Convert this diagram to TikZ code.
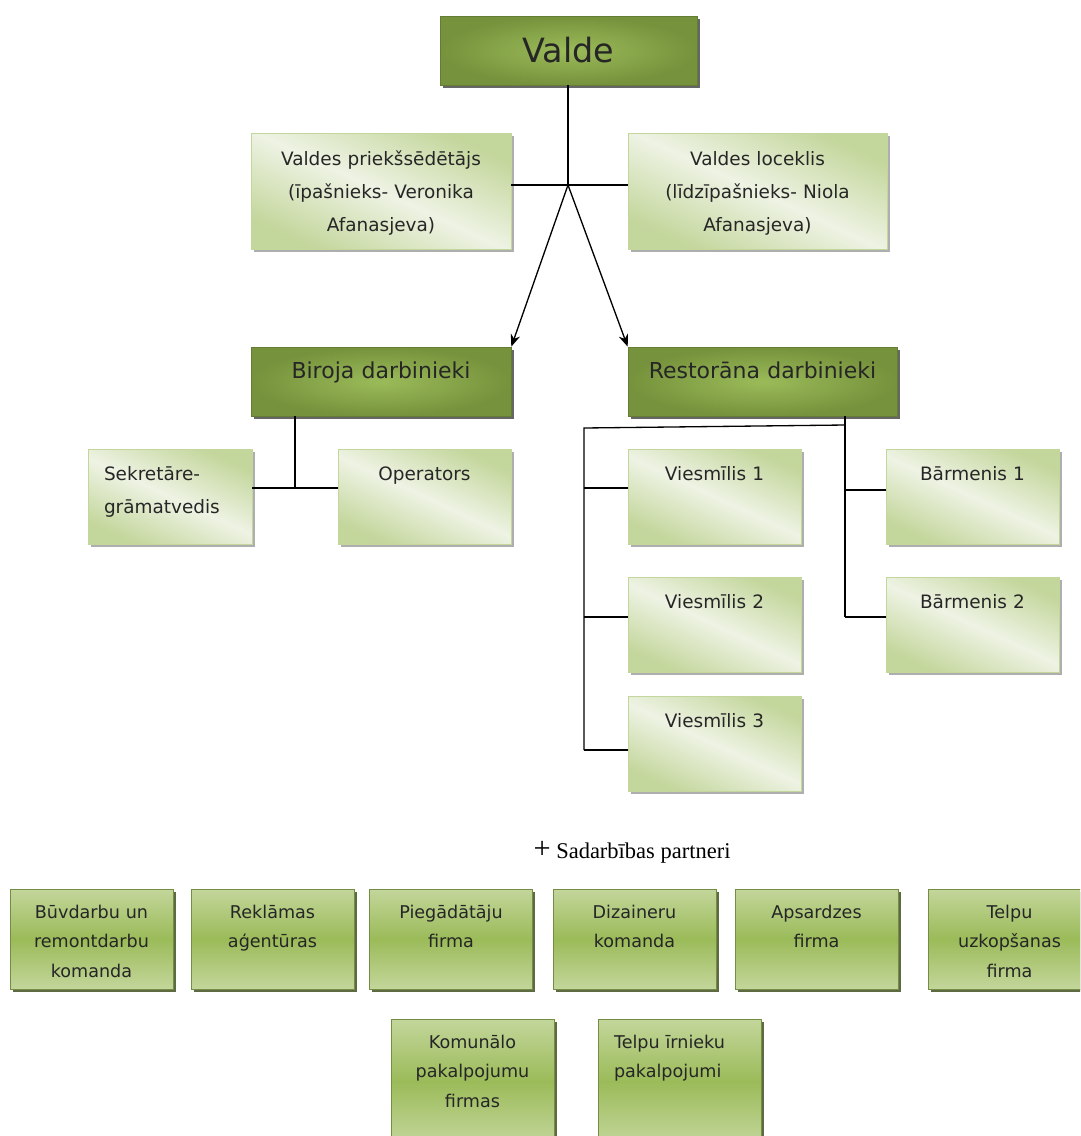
\documentclass[tikz,border=0pt]{standalone}
\usepackage{fontspec}
\setmainfont{DejaVu Sans}
\newfontfamily\partnerfont{Liberation Serif}
\usepackage{xcolor}
\usetikzlibrary{arrows.meta,shadows}

\definecolor{olivedark}{HTML}{76923C}
\definecolor{olivemid}{HTML}{9BBB59}
\definecolor{olivelight}{HTML}{C3D69B}
\definecolor{olivepale}{HTML}{EEF3E4}

\begin{document}
\begin{tikzpicture}[x=0.02cm,y=-0.02cm,
  box/.style={rectangle,inner sep=0pt,align=center,text=black!85,line width=0.4pt},
  headbox/.style={box,draw=olivedark!85!black,inner color=olivemid,outer color=olivedark,
                  text width=5.2cm,minimum width=5.2cm,text height=0.62cm,text depth=0.76cm,
                  font=\fontsize{12.5}{15}\selectfont,
                  drop shadow={shadow xshift=1.6pt,shadow yshift=-1.6pt,fill=black!75,opacity=.8}},
  rolebox/.style={box,draw=olivelight,top color=olivelight,bottom color=olivelight,middle color=olivepale,
                  shading angle=-25,
                  text width=3.46cm,minimum width=3.46cm,text height=0.62cm,text depth=1.28cm,
                  font=\fontsize{10.5}{18.8}\selectfont,
                  drop shadow={shadow xshift=1.6pt,shadow yshift=-1.6pt,fill=black!45,opacity=.7}},
  partnerbox/.style={box,draw=olivemid!75!black,top color=olivelight,bottom color=olivelight,middle color=olivemid,
                  text width=3.26cm,minimum width=3.26cm,text height=0.58cm,text depth=1.42cm,
                  font=\fontsize{10}{17}\selectfont,
                  drop shadow={shadow xshift=1.6pt,shadow yshift=-1.6pt,fill=olivedark!55!black,opacity=.85}},
  leftbox/.style={align=left,inner xsep=0.32cm,text width=#1},
  link/.style={line width=0.75pt},
  down/.style={link,-{Stealth[length=7pt,width=5.5pt]}}]

\useasboundingbox (0,0) rectangle (1080,1136);
\clip (0,0) rectangle (1080,1136);

% board
\node[headbox,text width=5.14cm,minimum width=5.14cm,text height=0.92cm,text depth=0.46cm,
      font=\fontsize{19}{22}\selectfont] (valde) at (568.5,50.5) {Valde};

\node[rolebox,text width=5.2cm,minimum width=5.2cm,text height=0.64cm,text depth=1.68cm] (chair) at (381,191)
  {Valdes priekšsēdētājs\\(īpašnieks- Veronika\\Afanasjeva)};
\node[rolebox,text width=5.18cm,minimum width=5.18cm,text height=0.64cm,text depth=1.68cm] (member) at (757.5,191)
  {Valdes loceklis\\(līdzīpašnieks- Niola\\Afanasjeva)};

\coordinate (jct) at (568,185);
\draw[link] (valde.south -| jct) -- (jct);
\draw[link] (chair.east |- jct) -- (member.west |- jct);

% departments
\node[headbox] (office) at (381,381.5) {Biroja darbinieki};
\node[headbox,text width=5.38cm,minimum width=5.38cm] (rest) at (762.5,381.5) {Restorāna darbinieki};

\draw[down] (jct) -- (office.north east);
\draw[down] (jct) -- (rest.north west);

% office staff
\node[rolebox,text width=3.28cm,minimum width=3.28cm,leftbox=2.64cm] (secr) at (170,496.5) {Sekretāre-\\grāmatvedis};
\node[rolebox] (oper) at (424.5,496.5) {Operators};

\coordinate (oj) at (295,488);
\draw[link] (office.south -| oj) -- (oj);
\draw[link] (secr.east |- oj) -- (oper.west |- oj);

% restaurant staff
\node[rolebox] (wait1) at (714.5,496.5) {Viesmīlis 1};
\node[rolebox] (wait2) at (714.5,624.5) {Viesmīlis 2};
\node[rolebox] (wait3) at (714.5,744)   {Viesmīlis 3};
\node[rolebox] (bar1)  at (972.5,496.5) {Bārmenis 1};
\node[rolebox] (bar2)  at (972.5,624.5) {Bārmenis 2};

\coordinate (rj)  at (845,425);
\coordinate (rb1) at (845,490);
\coordinate (rb2) at (845,617);
\coordinate (wj)  at (584,428);
\coordinate (w1)  at (584,488);
\coordinate (w2)  at (584,617);
\coordinate (w3)  at (584,750);

\draw[link] (rest.south -| rj) -- (rb2);
\draw[link] (rj) -- (wj) -- (w3);
\foreach \w/\n in {w1/wait1,w2/wait2,w3/wait3}
  \draw[link] (\w) -- (\n.west |- \w);
\foreach \b/\n in {rb1/bar1,rb2/bar2}
  \draw[link] (\b) -- (\n.west |- \b);

% partners
\node[font=\partnerfont\fontsize{12.8}{15}\selectfont] (partners) at (632,852) {{\LARGE +} Sadarbības partneri};

\node[partnerbox] (build)  at (91.5,939)  {Būvdarbu un\\remontdarbu\\komanda};
\node[partnerbox] (adv)    at (272.5,939) {Reklāmas\\aģentūras};
\node[partnerbox] (supply) at (451,939)   {Piegādātāju\\firma};
\node[partnerbox] (design) at (634.5,939) {Dizaineru\\komanda};
\node[partnerbox] (guard)  at (816.5,939) {Apsardzes\\firma};
\node[partnerbox] (clean)  at (1009.5,939) {Telpu\\uzkopšanas\\firma};

\node[partnerbox,text depth=1.92cm] (util) at (472.5,1081.5) {Komunālo\\pakalpojumu\\firmas};
\node[partnerbox,text depth=1.92cm,leftbox=2.62cm] (rent) at (679.5,1081.5) {Telpu īrnieku\\pakalpojumi};
\end{tikzpicture}
\end{document}
